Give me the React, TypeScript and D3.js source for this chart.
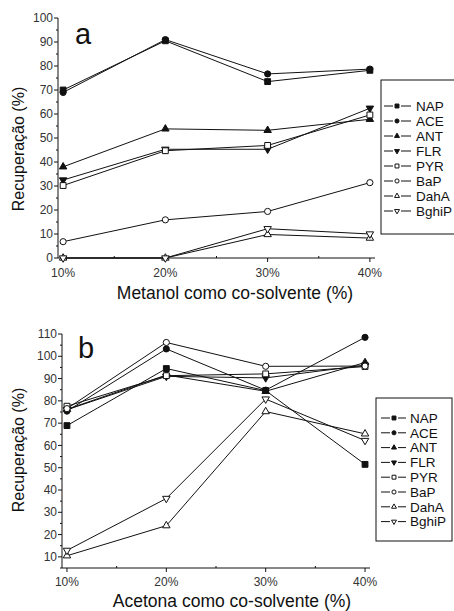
import * as d3 from 'd3';

// x categories (co-solvent %)
const xCats = [10, 20, 30, 40];
const seriesNames = ['NAP', 'ACE', 'ANT', 'FLR', 'PYR', 'BaP', 'DahA', 'BghiP'];

// panel a - metanol
const metanolNAP = [70, 90.5, 73.5, 78.2];
const metanolACE = [69, 91, 76.7, 78.7];
const metanolANT = [38, 53.8, 53.2, 57.8];
const metanolFLR = [32.5, 45.3, 45.3, 62.4];
const metanolPYR = [30.2, 44.7, 46.9, 59.6];
const metanolBaP = [6.8, 15.9, 19.4, 31.4];
const metanolDahA = [0, 0, 9.8, 8.3];
const metanolBghiP = [0, 0, 12.2, 10];

// panel b - acetona
const acetonaNAP = [68.9, 94.5, 84.6, 51.5];
const acetonaACE = [75.4, 103.3, 84.8, 108.5];
const acetonaANT = [76.2, 91.6, 84.3, 97.2];
const acetonaFLR = [76, 91, 90.3, 96];
const acetonaPYR = [77.6, 91.3, 92.1, 95.4];
const acetonaBaP = [76.5, 106.2, 95.5, 95.6];
const acetonaDahA = [10.5, 24, 75.2, 65.2];
const acetonaBghiP = [12.9, 36.2, 80.8, 62.2];

const yTicksA = d3.range(0, 101, 10);
const yTicksB = d3.range(10, 111, 10);

const metanolSeries = [metanolNAP, metanolACE, metanolANT, metanolFLR, metanolPYR, metanolBaP, metanolDahA, metanolBghiP];
const acetonaSeries = [acetonaNAP, acetonaACE, acetonaANT, acetonaFLR, acetonaPYR, acetonaBaP, acetonaDahA, acetonaBghiP];

const FONT = '"Liberation Sans", Arial, Helvetica, sans-serif';

// marker style for each series (same order as seriesNames)
const shapes = ['square', 'circle', 'up', 'down', 'square', 'circle', 'up', 'down'];
const filled = [true, true, true, true, false, false, false, false];

const markerPath = (shape: string, small: boolean) => {
    const k = small ? 0.45 : 1;
    if (shape === 'square') return d3.symbol().type(d3.symbolSquare).size(34 * k)()!;
    if (shape === 'circle') return d3.symbol().type(d3.symbolCircle).size(30 * k)()!;
    return d3.symbol().type(d3.symbolTriangle).size(24 * k)()!;
};

const Marker = ({ x, y, i, small = false }: { x: number; y: number; i: number; small?: boolean }) => {
    const rot = shapes[i] === 'down' ? ' rotate(180)' : '';
    return (
        <path
            d={markerPath(shapes[i], small)}
            transform={`translate(${x},${y})${rot}`}
            fill={filled[i] ? '#111' : '#fff'}
            stroke="#111"
            strokeWidth={1}
        />
    );
};

type PanelProps = {
    series: number[][];
    xRange: [number, number];
    yDomain: [number, number];
    yRange: [number, number];
    yTicks: number[];
    letter: string;
    letterX: number;
    letterY: number;
    xTitle: string;
    xTitleX: number;
    xTitleY: number;
    yTitleY: number;
    xLabelY: number;
    legend: { x: number; right: number; top: number; bottom: number; first: number; step: number; l1: number; l2: number; m: number; t: number };
};

const Panel = (p: PanelProps) => {
    const x = d3.scaleLinear().domain([9.5, 40.5]).range(p.xRange);
    const y = d3.scaleLinear().domain(p.yDomain).range(p.yRange);
    const line = d3.line<number>()
        .x((_, i) => x(xCats[i]))
        .y(d => y(d));

    const minorY = d3.range(p.yDomain[0], p.yDomain[1], 5).filter(v => v % 10 !== 0);
    const minorX = [15, 25, 35];
    const y0 = p.yRange[0];
    const x0 = p.xRange[0];
    const lg = p.legend;

    return (
        <g>
            {/* axes */}
            <line x1={x0} x2={x0} y1={p.yRange[0]} y2={p.yRange[1]} stroke="#111" strokeWidth={1} />
            <line x1={x0} x2={p.xRange[1]} y1={y0} y2={y0} stroke="#111" strokeWidth={1} />
            {p.yTicks.map(t => (
                <g key={'yt' + t}>
                    <line x1={x0 - 4} x2={x0} y1={y(t)} y2={y(t)} stroke="#111" />
                    <text x={x0 - 5} y={y(t)} dy="0.35em" textAnchor="end" fontSize={12} fill="#333" fontFamily={FONT}>{t}</text>
                </g>
            ))}
            {minorY.map(t => (
                <line key={'ym' + t} x1={x0 - 2} x2={x0} y1={y(t)} y2={y(t)} stroke="#111" />
            ))}
            {xCats.map(c => (
                <g key={'xt' + c}>
                    <line x1={x(c)} x2={x(c)} y1={y0} y2={y0 + 4} stroke="#111" />
                    <text x={x(c)} y={p.xLabelY} textAnchor="middle" fontSize={12} fill="#333" fontFamily={FONT}>{c}%</text>
                </g>
            ))}
            {minorX.map(c => (
                <line key={'xm' + c} x1={x(c)} x2={x(c)} y1={y0} y2={y0 - 2} stroke="#111" />
            ))}

            {/* titles */}
            <text x={p.letterX} y={p.letterY} fontSize={29} fill="#111" fontFamily={FONT}>{p.letter}</text>
            <text x={p.xTitleX} y={p.xTitleY} textAnchor="middle" fontSize={17.5} fill="#111" fontFamily={FONT}>{p.xTitle}</text>
            <text transform={`translate(18,${p.yTitleY}) rotate(-90)`} textAnchor="middle" dy="0.35em" fontSize={16} fill="#111" fontFamily={FONT}>Recuperação (%)</text>

            {/* series */}
            {p.series.map((vals, i) => (
                <path key={'l' + i} d={line(vals)!} fill="none" stroke="#111" strokeWidth={1} />
            ))}
            {p.series.map((vals, i) => vals.map((v, j) => (
                <Marker key={`m${i}-${j}`} x={x(xCats[j])} y={y(v)} i={i} />
            )))}

            {/* legend */}
            <rect x={lg.x} y={lg.top} width={lg.right - lg.x} height={lg.bottom - lg.top} fill="#fff" stroke="#111" strokeWidth={1} />
            {seriesNames.map((name, i) => {
                const ly = lg.first + i * lg.step;
                return (
                    <g key={'lg' + name}>
                        <line x1={lg.l1} x2={lg.m - 4} y1={ly} y2={ly} stroke="#111" />
                        <line x1={lg.m + 4} x2={lg.l2} y1={ly} y2={ly} stroke="#111" />
                        <Marker x={lg.m} y={ly} i={i} small />
                        <text x={lg.t} y={ly} dy="0.36em" fontSize={13.5} fill="#111" fontFamily={FONT}>{name}</text>
                    </g>
                );
            })}
        </g>
    );
};

export default function App() {
    return (
        <svg width={454} height={611} style={{ position: 'absolute', left: 0, top: 0, background: '#fff' }}>
            <Panel
                series={metanolSeries}
                xRange={[58, 375]}
                yDomain={[0, 100]}
                yRange={[258, 18]}
                yTicks={yTicksA}
                letter="a"
                letterX={75}
                letterY={44}
                xTitle="Metanol como co-solvente (%)"
                xTitleX={235}
                xTitleY={299}
                yTitleY={149}
                xLabelY={277}
                legend={{ x: 381, right: 462, top: 80, bottom: 234, first: 106, step: 15, l1: 384, l2: 411, m: 397, t: 416 }}
            />
            <Panel
                series={acetonaSeries}
                xRange={[62, 370]}
                yDomain={[5, 110]}
                yRange={[568, 334]}
                yTicks={yTicksB}
                letter="b"
                letterX={78}
                letterY={358}
                xTitle="Acetona como co-solvente (%)"
                xTitleX={232}
                xTitleY={607}
                yTitleY={450}
                xLabelY={586}
                legend={{ x: 376, right: 452, top: 398, bottom: 541, first: 418, step: 14.8, l1: 381, l2: 406, m: 394, t: 410 }}
            />
        </svg>
    );
}
